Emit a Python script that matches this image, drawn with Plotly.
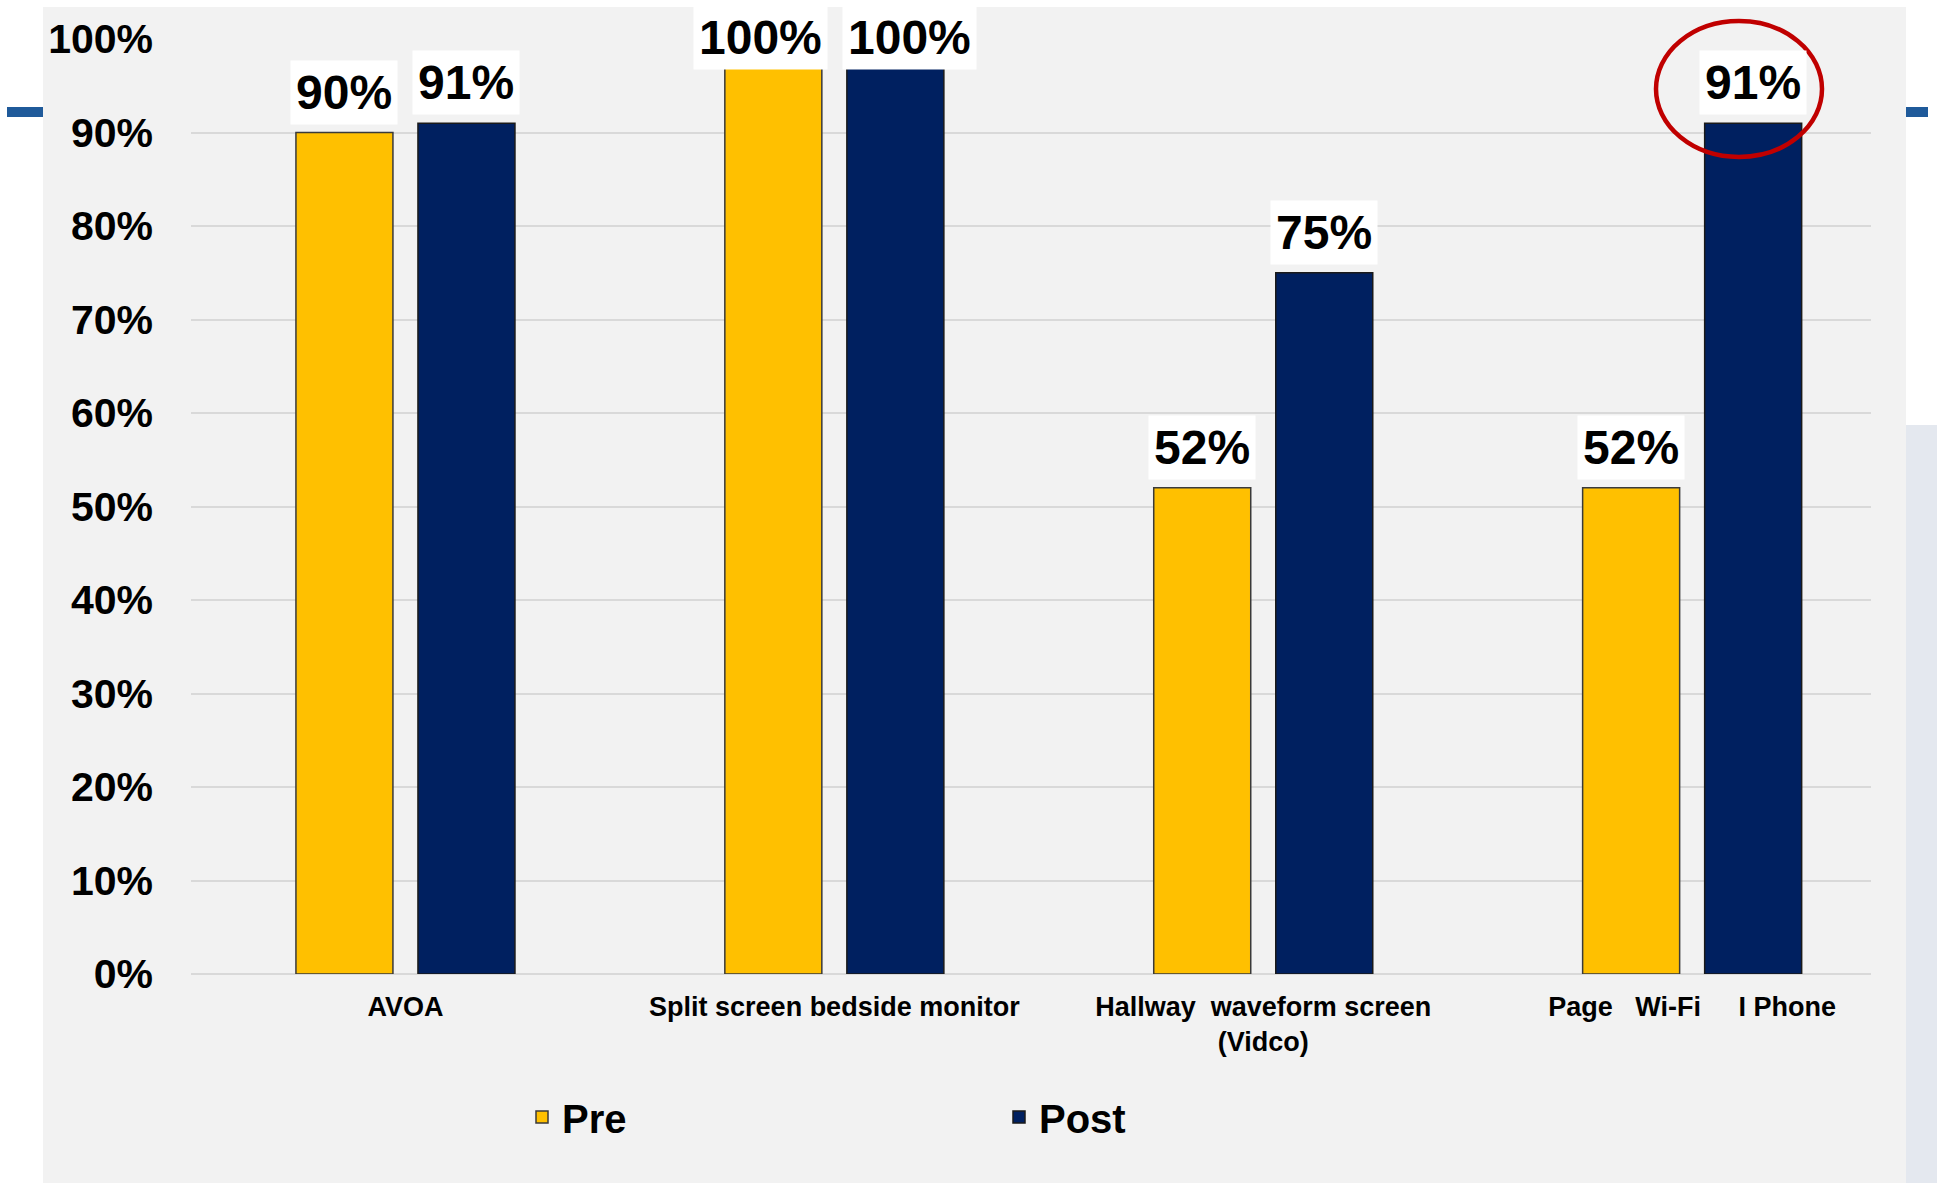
import plotly.graph_objects as go

categories = ["AVOA", "Split screen bedside monitor",
              "Hallway\u00a0\u00a0waveform screen<br>(Vidco)",
              "Page\u00a0\u00a0\u00a0Wi-Fi\u00a0\u00a0\u00a0\u00a0\u00a0I\u00a0Phone"]
series_names = ["Pre", "Post"]
pre_values = [90, 100, 52, 52]
post_values = [91, 100, 75, 91]
y_tick_values = [0, 10, 20, 30, 40, 50, 60, 70, 80, 90, 100]
y_tick_labels = ["0%", "10%", "20%", "30%", "40%", "50%", "60%", "70%", "80%", "90%", "100%"]

FONT = "Liberation Sans, Arial, Helvetica, sans-serif"
PRE_COLOR = "#FFC000"
POST_COLOR = "#002060"
W, H = 1937, 1183
L, R, T, B = 191, 66, 39, 209
pw, ph = W - L - R, H - T - B


def px_x(p):
    return (p - L) / pw


def px_y(p):
    return (H - B - p) / ph


fig = go.Figure()
fig.add_trace(go.Bar(name=series_names[0], x=categories, y=pre_values,
                     marker=dict(color=PRE_COLOR, line=dict(color="#3a3a3a", width=1.5))))
fig.add_trace(go.Bar(name=series_names[1], x=categories, y=post_values,
                     marker=dict(color=POST_COLOR, line=dict(color="#1a1a1a", width=1.5))))

LABEL_CAP = 95.8
annotations = []
for vals, shift, spread in ((pre_values, -61, -13), (post_values, 61, 14)):
    for c, v in zip(categories, vals):
        clamped = v > LABEL_CAP
        annotations.append(dict(
            x=c, y=min(v, LABEL_CAP), xref="x", yref="y",
            xshift=shift + (spread if clamped else 0), yshift=8,
            text=f"{v}%", showarrow=False, yanchor="bottom", xanchor="center",
            font=dict(family=FONT, size=48, color="black", weight="bold"),
            bgcolor="white", borderpad=5))

shapes = [
    # slide panel
    dict(type="rect", xref="paper", yref="paper", layer="below",
         x0=px_x(43), x1=px_x(1906), y0=px_y(1190), y1=px_y(7),
         fillcolor="#F2F2F2", line=dict(width=0)),
    # background strip right
    dict(type="rect", xref="paper", yref="paper", layer="below",
         x0=px_x(1906), x1=px_x(1945), y0=px_y(1190), y1=px_y(425),
         fillcolor="#E4E8EF", line=dict(width=0)),
    # blue slide bars
    dict(type="rect", xref="paper", yref="paper", layer="below",
         x0=px_x(7), x1=px_x(43), y0=px_y(117), y1=px_y(107),
         fillcolor="#1F5A9A", line=dict(width=0)),
    dict(type="rect", xref="paper", yref="paper", layer="below",
         x0=px_x(1906), x1=px_x(1928), y0=px_y(117), y1=px_y(107),
         fillcolor="#1F5A9A", line=dict(width=0)),
    # red highlight ellipse
    dict(type="circle", xref="paper", yref="paper",
         x0=px_x(1656), x1=px_x(1822), y0=px_y(157), y1=px_y(21),
         line=dict(color="#C00000", width=4.5), fillcolor="rgba(0,0,0,0)"),
]

fig.update_layout(
    width=W, height=H,
    margin=dict(l=L, r=R, t=T, b=B),
    paper_bgcolor="white", plot_bgcolor="#F2F2F2",
    barmode="group", bargap=0.431, bargroupgap=0.205,
    font=dict(family=FONT, color="black"),
    showlegend=True,
    legend=dict(orientation="h", x=px_x(522), xanchor="left", y=px_y(1117), yanchor="middle",
                font=dict(family=FONT, size=40, color="black", weight="bold"),
                bgcolor="rgba(0,0,0,0)", entrywidth=432, entrywidthmode="pixels",
                traceorder="normal"),
    annotations=annotations,
    shapes=shapes,
)
fig.update_xaxes(range=[-0.5, 3.417], showgrid=False, showline=False, zeroline=False,
                 ticks="", ticklabelstandoff=14,
                 tickfont=dict(family=FONT, size=27, color="black", weight="bold"))
fig.update_yaxes(range=[0, 100], tickvals=y_tick_values, ticktext=y_tick_labels,
                 showgrid=True, gridcolor="#D9D9D9", gridwidth=1.5,
                 zeroline=True, zerolinecolor="#D9D9D9", zerolinewidth=1.5,
                 showline=False, ticks="", ticklabelstandoff=37,
                 tickfont=dict(family=FONT, size=41, color="black", weight="bold"))

fig.write_html("out.html")
